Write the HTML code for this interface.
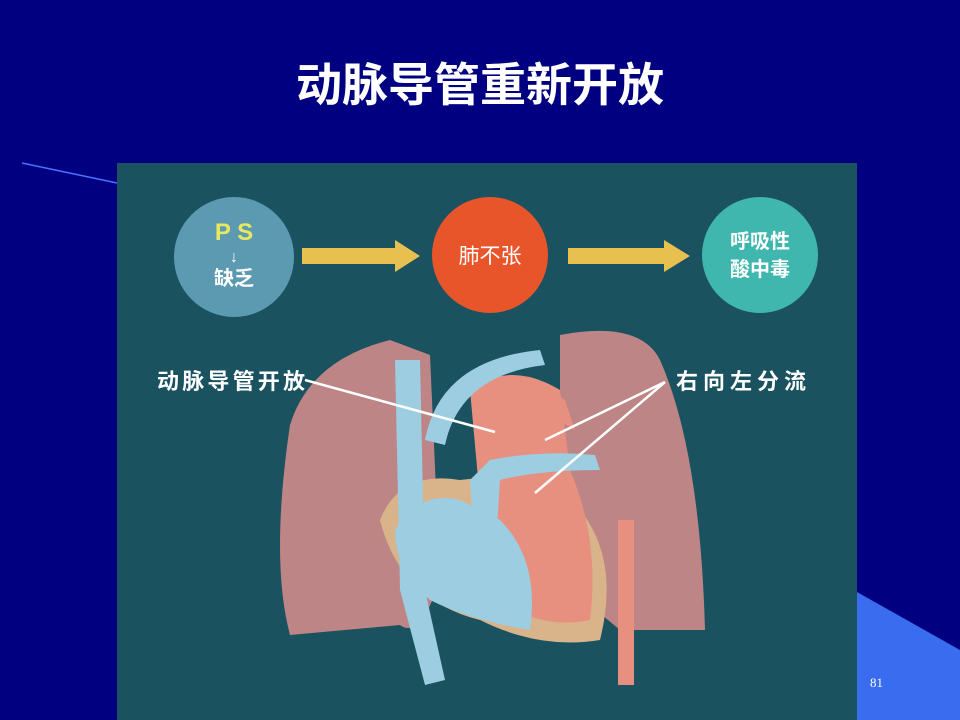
<!DOCTYPE html>
<html><head><meta charset="utf-8"><style>
body{margin:0;width:960px;height:720px;background:#000080;overflow:hidden;position:relative;font-family:"Liberation Sans","Noto Sans CJK SC",sans-serif}
</style></head><body>
<svg width="960" height="720" style="position:absolute;left:0;top:0">
<polygon points="857,592 960,650 960,720 857,720" fill="#3a6cf0"/>
<line x1="22" y1="163" x2="117" y2="183" stroke="#4a70ff" stroke-width="1.5"/>
<rect x="117" y="163" width="740" height="557" fill="#1a5260"/>
<text x="480" y="101" fill="#fff" font-size="46" font-weight="bold" text-anchor="middle" font-family="Liberation Sans, Noto Sans CJK SC, sans-serif">动脉导管重新开放</text>
<text x="870" y="687" fill="#fff" font-size="13" font-family="Liberation Serif, serif">81</text>
<!-- circles -->
<circle cx="234" cy="257" r="60" fill="#5b9ab0"/>
<text x="234" y="240" fill="#e8e860" font-size="24" font-weight="bold" text-anchor="middle">P S</text>
<text x="234" y="262" fill="#fff" font-size="16" text-anchor="middle">↓</text>
<text x="234" y="285" fill="#fff" font-size="20" font-weight="bold" text-anchor="middle" font-family="Noto Sans CJK SC, sans-serif">缺乏</text>
<polygon points="302,248 395,248 395,240 420,256 395,272 395,264 302,264" fill="#e8c050"/>
<circle cx="490" cy="255" r="58" fill="#e8552a"/>
<text x="490" y="263" fill="#fff" font-size="21" text-anchor="middle" font-family="Noto Sans CJK SC, sans-serif">肺不张</text>
<polygon points="568,248 664,248 664,240 690,256 664,272 664,264 568,264" fill="#e8c050"/>
<circle cx="760" cy="255" r="58" fill="#3fb6ae"/>
<text x="760" y="248" fill="#fff" font-size="20" font-weight="bold" text-anchor="middle" font-family="Noto Sans CJK SC, sans-serif">呼吸性</text>
<text x="760" y="276" fill="#fff" font-size="20" font-weight="bold" text-anchor="middle" font-family="Noto Sans CJK SC, sans-serif">酸中毒</text>
<!-- lungs -->
<path d="M290,425 Q310,360 390,340 L430,355 L440,580 Q420,640 400,625 L290,635 Q270,560 290,425Z" fill="#bd8585"/>
<path d="M560,335 Q640,320 660,360 Q700,450 705,630 L620,630 L560,580Z" fill="#bd8585"/>
<!-- heart -->
<path d="M380,520 Q400,470 460,480 Q540,470 580,510 Q620,560 600,640 Q540,650 480,620 Q400,600 380,520Z" fill="#d9b38a"/>
<path d="M470,390 Q510,360 560,390 L570,470 Q600,540 590,620 Q540,630 500,600 L480,500Z" fill="#e89080"/>
<path d="M395,530 Q420,490 460,500 L500,520 Q540,560 530,630 Q470,620 430,600 Q395,570 395,530Z" fill="#9dcde0"/>
<!-- vessels -->
<path d="M395,360 L420,360 L425,590 L445,680 L425,685 L400,590Z" fill="#9dcde0"/>
<path d="M425,440 Q440,360 540,350 L545,365 Q460,375 445,445Z" fill="#9dcde0"/>
<path d="M470,480 L490,460 Q540,450 595,455 L600,470 Q540,470 500,480 L495,560 L475,560Z" fill="#9dcde0"/>
<rect x="618" y="520" width="16" height="165" fill="#e89080"/>
<path d="M480,400 Q520,370 565,400 L575,430 Q520,395 490,420Z" fill="#e89080"/>
<!-- labels -->
<text x="157" y="389" fill="#fff" font-size="22" font-weight="bold" font-family="Noto Sans CJK SC, sans-serif" textLength="148">动脉导管开放</text>
<text x="676" y="389" fill="#fff" font-size="22" font-weight="bold" font-family="Noto Sans CJK SC, sans-serif" textLength="130">右向左分流</text>
<line x1="305" y1="380" x2="495" y2="432" stroke="#fff" stroke-width="2.5"/>
<line x1="665" y1="382" x2="545" y2="440" stroke="#fff" stroke-width="2.5"/>
<line x1="665" y1="382" x2="535" y2="493" stroke="#fff" stroke-width="2.5"/>
</svg>
</body></html>
